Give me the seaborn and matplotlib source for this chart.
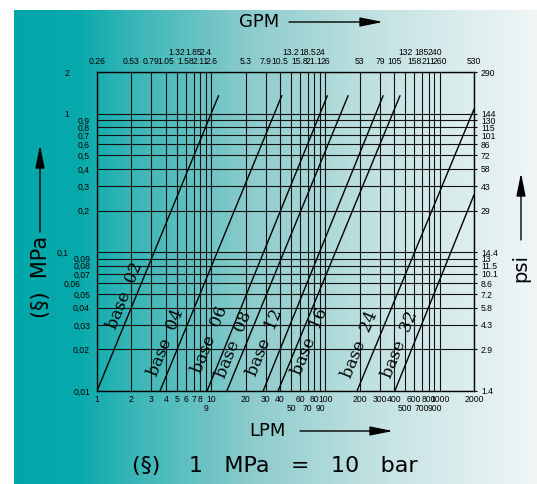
import numpy as np
import pandas as pd
import matplotlib.pyplot as plt
import seaborn as sns
from matplotlib.colors import LinearSegmentedColormap

sns.set_style("white")
plt.rcParams['font.family'] = ['DejaVu Sans']
plt.rcParams['text.color'] = 'black'

# --- data ---
lpm_ticks = [1, 2, 3, 4, 5, 6, 7, 8, 9, 10, 20, 30, 40, 50, 60, 70, 80, 90,
             100, 200, 300, 400, 500, 600, 700, 800, 900, 1000, 2000]
gpm_labels = ["0.26", "0.53", "0.79", "1.05", "1.32", "1.58", "1.85", "2.11", "2.4",
              "2.6", "5.3", "7.9", "10.5", "13.2", "15.8", "18.5", "21.1", "24",
              "26", "53", "79", "105", "132", "158", "185", "211", "240", "260", "530"]
top_upper_row = [5, 7, 9, 50, 70, 90, 500, 700, 900]
bottom_lower_row = [9, 50, 70, 90, 500, 700, 900]

mpa_ticks = [0.01, 0.02, 0.03, 0.04, 0.05, 0.06, 0.07, 0.08, 0.09,
             0.1, 0.2, 0.3, 0.4, 0.5, 0.6, 0.7, 0.8, 0.9, 1, 2]
mpa_labels = ["0,01", "0,02", "0,03", "0,04", "0,05", "0,06", "0,07", "0,08", "0,09",
              "0,1", "0,2", "0,3", "0,4", "0,5", "0,6", "0,7", "0,8", "0,9", "1", "2"]
psi_labels = ["1.4", "2.9", "4.3", "5.8", "7.2", "8.6", "10.1", "11.5", "13",
              "14.4", "29", "43", "58", "72", "86", "101", "115", "130", "144", "290"]

base_names = ["02", "04", "06", "08", "12", "16", "24", "32"]
lpm_start = [1.0, 3.56, 9.2, 13.7, 28.5, 38.5, 189, 405]
mpa_start = [0.01, 0.01, 0.01, 0.01, 0.01, 0.01, 0.01, 0.01]
lpm_end = [11.6, 41.5, 104, 158, 320, 450, 2000, 2000]
mpa_end = [1.35, 1.35, 1.35, 1.35, 1.35, 1.35, 1.08, 0.26]

label_lpm = [1.76, 4.0, 9.8, 15.8, 29.6, 73, 201, 450]
label_mpa = [0.049, 0.0222, 0.0233, 0.0215, 0.0222, 0.0226, 0.0215, 0.0215]

df = pd.DataFrame({
    "base": base_names * 2,
    "LPM": lpm_start + lpm_end,
    "MPa": mpa_start + mpa_end,
})

W, H = 537, 484
fig = plt.figure(figsize=(W / 100, H / 100), dpi=100)


def fx(px):
    return px / W


def fy(py):
    return 1 - py / H


# background gradient
bg = fig.add_axes([fx(14), 0, fx(W - 14), 1 - 10 / H], zorder=-5)
cmap = LinearSegmentedColormap.from_list(
    "bg", [(0.0, "#00a7a9"), (0.12, "#07aaac"), (0.22, "#36b5b6"),
           (0.45, "#8ccbcc"), (0.7, "#c4e2e2"), (1.0, "#f0f6f6")])
bg.imshow(np.linspace(0, 1, 400)[None, :], aspect="auto", cmap=cmap,
          extent=[0, 1, 0, 1])
bg.axis("off")

ax = fig.add_axes([fx(97), fy(391), fx(474 - 97), (391 - 72) / H])
ax.set_facecolor("none")

sns.lineplot(data=df, x="LPM", y="MPa", units="base", estimator=None,
             sort=False, color="black", lw=1.0, ax=ax, legend=False)

ax.set_xscale("log")
ax.set_yscale("log")
ax.set_xlim(1, 2000)
ax.set_ylim(0.01, 2)

tick_font = dict(fontsize=6.2, family="Liberation Sans", color="black")
ax.set_xticks(lpm_ticks, [str(v) for v in lpm_ticks], **tick_font)
ax.set_yticks(mpa_ticks, mpa_labels, **tick_font)
ax.minorticks_off()
ax.grid(True, which="major", color="#111111", lw=0.8)
ax.tick_params(axis="both", length=0, width=0.8, colors="black")
ax.set_xlabel("")
ax.set_ylabel("")
for s in ax.spines.values():
    s.set_color("black")
    s.set_linewidth(1.0)

pt = 0.72  # px -> pt at 100 dpi
for tick, v in zip(ax.xaxis.get_major_ticks(), lpm_ticks):
    if v in bottom_lower_row:
        tick.tick1line.set_markersize(12 * pt)
        tick.set_pad(13 * pt)
    else:
        tick.set_pad(4 * pt)

for tick, v in zip(ax.yaxis.get_major_ticks(), mpa_ticks):
    if v in (2, 1, 0.1):
        tick.tick1line.set_markersize(24 * pt)
        tick.set_pad(28 * pt)
    elif v == 0.06:
        tick.tick1line.set_markersize(12 * pt)
        tick.set_pad(17 * pt)
    elif v == 0.08:
        tick.tick1line.set_markersize(10 * pt)
        tick.set_pad(7 * pt)
    else:
        tick.set_pad(7 * pt)

# top GPM axis
axt = ax.twiny()
axt.set_xscale("log")
axt.set_xlim(1, 2000)
axt.set_xticks(lpm_ticks, gpm_labels, **tick_font)
axt.minorticks_off()
axt.tick_params(axis="x", length=0, width=0.8, colors="black")
for tick, v in zip(axt.xaxis.get_major_ticks(), lpm_ticks):
    if v in top_upper_row:
        tick.tick2line.set_markersize(14 * pt)
        tick.set_pad(15 * pt)
    else:
        tick.set_pad(6 * pt)

# right psi axis
axr = ax.twinx()
axr.set_yscale("log")
axr.set_ylim(0.01, 2)
axr.set_yticks(mpa_ticks, psi_labels, **tick_font)
axr.minorticks_off()
axr.tick_params(axis="y", length=3 * pt, width=0.8, pad=4 * pt, colors="black")
for a in (axt, axr):
    for s in a.spines.values():
        s.set_visible(False)

# base labels
for name, x, y in zip(base_names, label_lpm, label_mpa):
    ax.text(x, y, "base  " + name, rotation=68, ha="center", va="center",
            family="DejaVu Serif", fontsize=12, color="black")

# titles and arrows
arrow = dict(arrowstyle="-|>,head_length=1.0,head_width=0.2", color="black",
             lw=1.0, mutation_scale=14, shrinkA=0, shrinkB=0)


def farrow(x0, y0, x1, y1):
    ax.annotate("", xy=(fx(x1), fy(y1)), xycoords="figure fraction",
                xytext=(fx(x0), fy(y0)), textcoords="figure fraction",
                arrowprops=arrow, annotation_clip=False)


fig.text(fx(259), fy(22), "GPM", ha="center", va="center", fontsize=13)
farrow(289, 22, 383, 22)
fig.text(fx(267), fy(431), "LPM", ha="center", va="center", fontsize=13)
farrow(300, 431, 393, 431)
fig.text(fx(41), fy(277), "(§)  MPa", rotation=90, ha="center", va="center",
         fontsize=15)
farrow(40, 232, 40, 145)
fig.text(fx(521), fy(268), "psi", rotation=90, ha="center", va="center",
         fontsize=14)
farrow(521, 240, 521, 173)
fig.text(fx(275), fy(466), "(§)    1   MPa   =   10   bar", ha="center",
         va="center", fontsize=16)

fig.savefig("out.png", dpi=100)
